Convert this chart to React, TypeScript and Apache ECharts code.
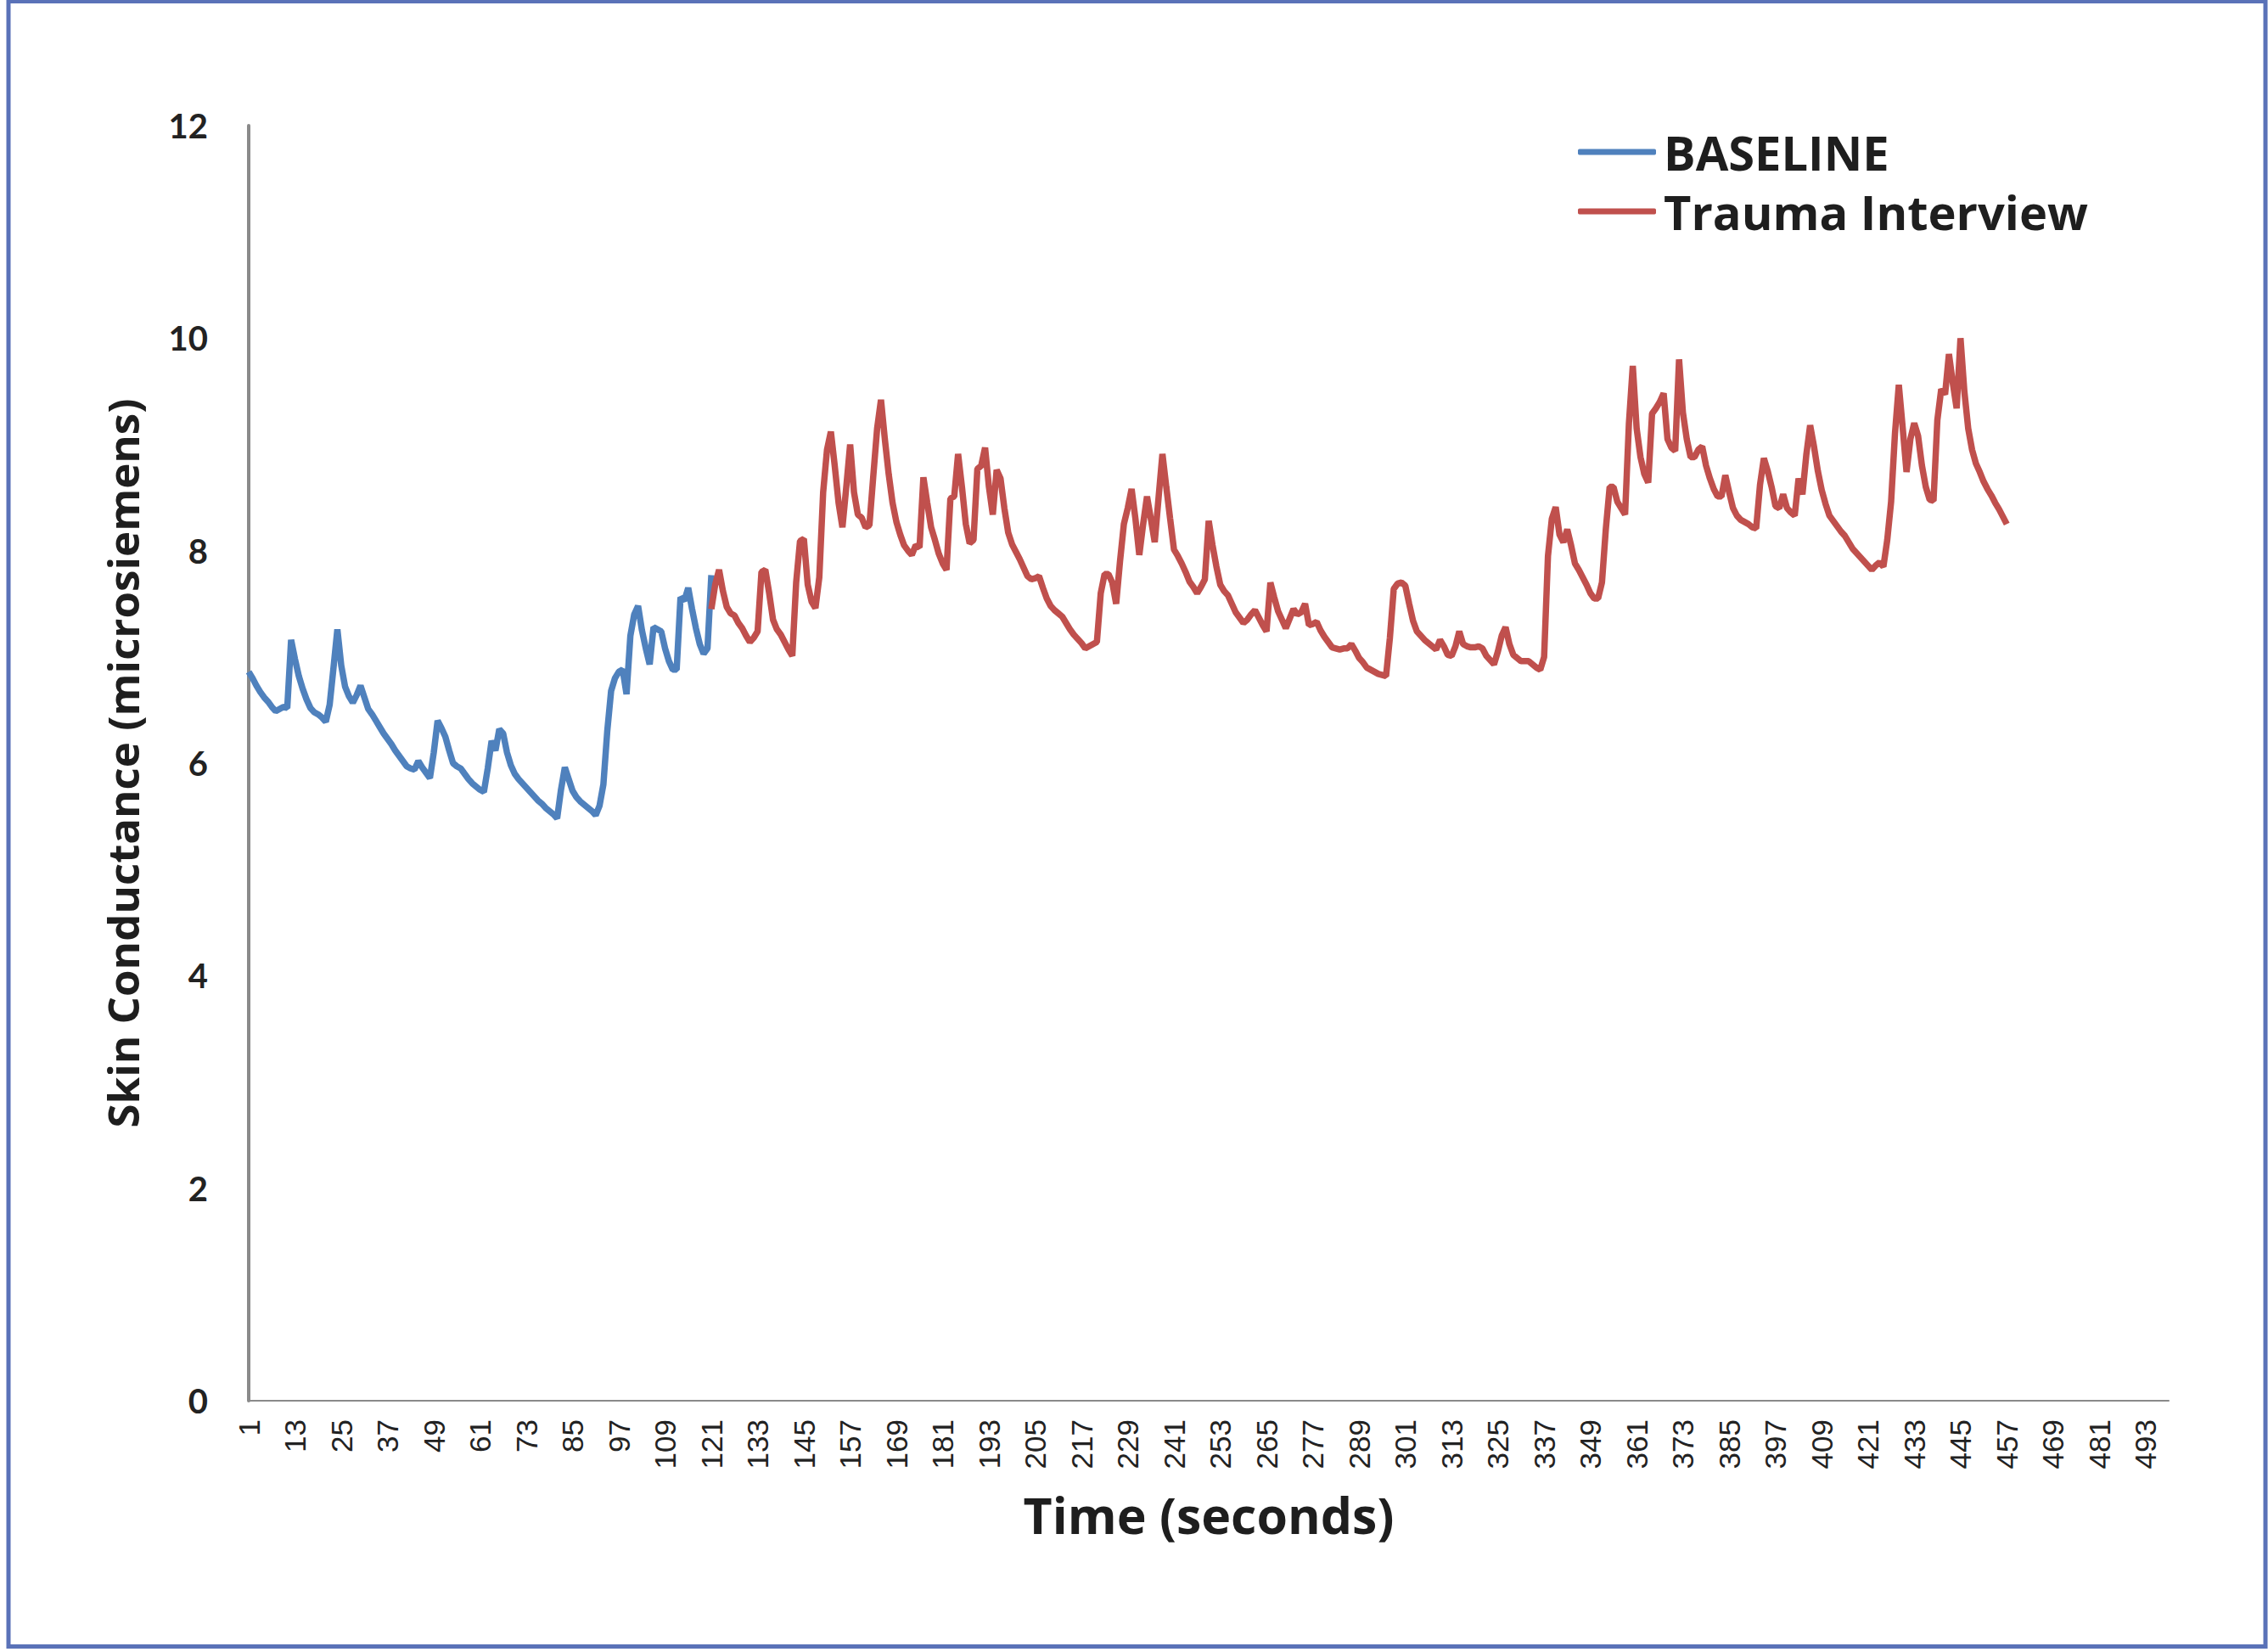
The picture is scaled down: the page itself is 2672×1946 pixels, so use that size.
import React, { useEffect, useRef } from "react";
import * as echarts from "echarts";

// Time categories (seconds 1..499)
const categories: string[] = Array.from({ length: 499 }, (_, i) => String(i + 1));

// BASELINE: seconds 1..121
const baseline: number[] = [
  6.86, 6.8, 6.73, 6.67, 6.62, 6.58, 6.53, 6.49, 6.51, 6.53,
  6.52, 7.16, 6.98, 6.82, 6.7, 6.6, 6.52, 6.48, 6.46, 6.43,
  6.39, 6.55, 6.9, 7.26, 6.92, 6.72, 6.63, 6.57, 6.64, 6.73,
  6.62, 6.51, 6.46, 6.4, 6.34, 6.28, 6.23, 6.18, 6.12, 6.07,
  6.02, 5.97, 5.95, 5.94, 6.02, 5.96, 5.91, 5.86, 6.1, 6.4,
  6.33, 6.25, 6.12, 6.0, 5.97, 5.95, 5.9, 5.85, 5.81, 5.78,
  5.75, 5.73, 5.95, 6.21, 6.12, 6.32, 6.28, 6.1, 5.98, 5.9,
  5.85, 5.81, 5.77, 5.73, 5.69, 5.65, 5.62, 5.58, 5.55, 5.52,
  5.48, 5.75, 5.96, 5.85, 5.74, 5.68, 5.64, 5.61, 5.58, 5.55,
  5.51, 5.6, 5.8, 6.3, 6.68, 6.8, 6.86, 6.88, 6.65, 7.2,
  7.4, 7.48, 7.25, 7.08, 6.93, 7.28, 7.26, 7.24, 7.08, 6.96,
  6.88, 6.88, 7.56, 7.53, 7.65, 7.45, 7.27, 7.12, 7.03, 7.08,
  7.77,
];

// Trauma Interview: seconds 121..457
const traumaStart = 121;
const trauma: number[] = [
  7.45, 7.68, 7.82, 7.62, 7.47, 7.41, 7.39, 7.32, 7.27, 7.2,
  7.14, 7.18, 7.24, 7.8, 7.82, 7.6, 7.35, 7.26, 7.21, 7.14,
  7.07, 7.01, 7.7, 8.09, 8.11, 7.68, 7.52, 7.46, 7.75, 8.55,
  8.95, 9.12, 8.8, 8.45, 8.22, 8.6, 9.0, 8.55, 8.34, 8.31,
  8.22, 8.24, 8.7, 9.15, 9.42, 9.05, 8.72, 8.45, 8.27, 8.15,
  8.05, 8.0, 7.96, 8.05, 8.03, 8.69, 8.45, 8.22, 8.1, 7.97,
  7.88, 7.82, 8.49, 8.51, 8.91, 8.6, 8.25, 8.07, 8.1, 8.77,
  8.8, 8.97, 8.6, 8.34, 8.76, 8.68, 8.4, 8.17, 8.06, 7.99,
  7.92, 7.84, 7.76, 7.73, 7.74, 7.76, 7.65, 7.55, 7.48, 7.44,
  7.41, 7.38, 7.32, 7.26, 7.21, 7.17, 7.13, 7.08, 7.1, 7.12,
  7.14, 7.6, 7.78, 7.78, 7.7, 7.5, 7.9, 8.25, 8.4, 8.58,
  8.3, 7.96, 8.25, 8.51, 8.3, 8.08, 8.5, 8.91, 8.6, 8.3,
  8.01, 7.95, 7.88, 7.8, 7.71, 7.66, 7.6, 7.66, 7.73, 8.28,
  8.05, 7.85, 7.68, 7.62, 7.58, 7.5, 7.42, 7.37, 7.32, 7.35,
  7.4, 7.44, 7.37, 7.3, 7.24, 7.7, 7.56, 7.43, 7.35, 7.27,
  7.36, 7.45, 7.4, 7.42, 7.5, 7.3, 7.31, 7.33, 7.25, 7.19,
  7.14, 7.09, 7.08, 7.07, 7.08, 7.08, 7.12, 7.06, 6.99, 6.95,
  6.9, 6.88, 6.86, 6.84, 6.83, 6.82, 7.18, 7.64, 7.69, 7.7,
  7.67, 7.5, 7.34, 7.24, 7.2, 7.16, 7.13, 7.1, 7.07, 7.16,
  7.1, 7.02, 7.01, 7.1, 7.24, 7.12, 7.1, 7.09, 7.09, 7.1,
  7.08, 7.01, 6.97, 6.93, 7.05, 7.2, 7.28, 7.12, 7.02, 6.99,
  6.96, 6.96, 6.96, 6.93, 6.9, 6.88, 7.0, 7.95, 8.3, 8.41,
  8.15, 8.08, 8.2, 8.05, 7.88, 7.82, 7.75, 7.68, 7.6, 7.55,
  7.55, 7.7, 8.2, 8.6, 8.6, 8.46, 8.4, 8.34, 9.2, 9.74,
  9.15, 8.88, 8.72, 8.64, 9.29, 9.34, 9.4, 9.48, 9.05, 8.97,
  8.94, 9.8, 9.3, 9.05, 8.88, 8.88, 8.95, 8.98, 8.8, 8.68,
  8.58, 8.51, 8.51, 8.71, 8.55, 8.4, 8.33, 8.29, 8.27, 8.25,
  8.22, 8.21, 8.62, 8.87, 8.75, 8.6, 8.42, 8.4, 8.53, 8.4,
  8.36, 8.33, 8.68, 8.53, 8.9, 9.18, 8.98, 8.75, 8.57, 8.44,
  8.33, 8.28, 8.23, 8.18, 8.14, 8.08, 8.02, 7.98, 7.94, 7.9,
  7.86, 7.82, 7.86, 7.89, 7.85, 8.1, 8.46, 9.1, 9.56, 9.16,
  8.74, 9.05, 9.2, 9.08, 8.8, 8.6, 8.48, 8.47, 9.23, 9.52,
  9.47, 9.85, 9.58, 9.34, 10.0, 9.5, 9.15, 8.95, 8.82, 8.74,
  8.65, 8.58, 8.52, 8.45, 8.39, 8.32, 8.25,
];

const seriesNames = ["BASELINE", "Trauma Interview"];
const seriesColors = ["#4F81BD", "#C0504D"];

export default function App() {
  const ref = useRef<HTMLDivElement>(null);

  useEffect(() => {
    if (!ref.current) return;
    const chart = echarts.init(ref.current, undefined, { renderer: "svg" });
    const traumaData: (number | null)[] = [
      ...Array.from({ length: traumaStart - 1 }, () => null),
      ...trauma,
    ];
    const axisGray = "#8a8a8a";
    const titleFont = "'Open Sans', 'DejaVu Sans', sans-serif";
    chart.setOption({
      animation: false,
      backgroundColor: "#ffffff",
      graphic: [
        {
          type: "rect",
          z: 100,
          silent: true,
          shape: { x: 10, y: 1.5, width: 2659, height: 1938 },
          style: { fill: "none", stroke: "#5a72b8", lineWidth: 5 },
        },
      ],
      grid: { left: 293, right: 117, top: 148, bottom: 296, containLabel: false },
      legend: {
        orient: "vertical",
        left: 1854,
        top: 144,
        itemWidth: 92,
        itemHeight: 7,
        itemGap: 10,
        icon: "roundRect",
        data: seriesNames,
        textStyle: {
          fontFamily: titleFont,
          fontWeight: "bold",
          fontSize: 56,
          lineHeight: 60,
          color: "#1e1e1e",
          padding: [0, 0, 0, 4],
        },
      },
      xAxis: {
        type: "category",
        data: categories,
        boundaryGap: false,
        name: "Time (seconds)",
        nameLocation: "middle",
        nameGap: 104,
        nameTextStyle: {
          fontFamily: titleFont,
          fontWeight: "bold",
          fontSize: 59,
          color: "#1e1e1e",
        },
        axisLine: { show: true, lineStyle: { color: axisGray, width: 2 } },
        axisTick: { show: false },
        splitLine: { show: false },
        axisLabel: {
          interval: 11,
          rotate: 90,
          margin: 22,
          fontFamily: "Liberation Sans",
          fontSize: 35,
          color: "#222222",
        },
      },
      yAxis: {
        type: "value",
        min: 0,
        max: 12,
        interval: 2,
        name: "Skin Conductance (microsiemens)",
        nameLocation: "middle",
        nameGap: 124,
        nameTextStyle: {
          fontFamily: titleFont,
          fontWeight: "bold",
          fontSize: 51,
          color: "#1e1e1e",
        },
        axisLine: { show: true, lineStyle: { color: axisGray, width: 4 } },
        axisTick: { show: false },
        splitLine: { show: false },
        axisLabel: {
          margin: 48,
          fontFamily: "Lato",
          fontWeight: "bold",
          fontSize: 40,
          color: "#222222",
        },
      },
      series: [
        {
          name: seriesNames[0],
          type: "line",
          data: baseline,
          showSymbol: false,
          symbol: "none",
          lineStyle: { color: seriesColors[0], width: 7.5 },
          itemStyle: { color: seriesColors[0] },
        },
        {
          name: seriesNames[1],
          type: "line",
          data: traumaData,
          showSymbol: false,
          symbol: "none",
          lineStyle: { color: seriesColors[1], width: 7.5 },
          itemStyle: { color: seriesColors[1] },
        },
      ],
    });
    return () => chart.dispose();
  }, []);

  return (
    <div
      ref={ref}
      style={{ position: "fixed", left: 0, top: 0, width: 2672, height: 1946 }}
    />
  );
}
